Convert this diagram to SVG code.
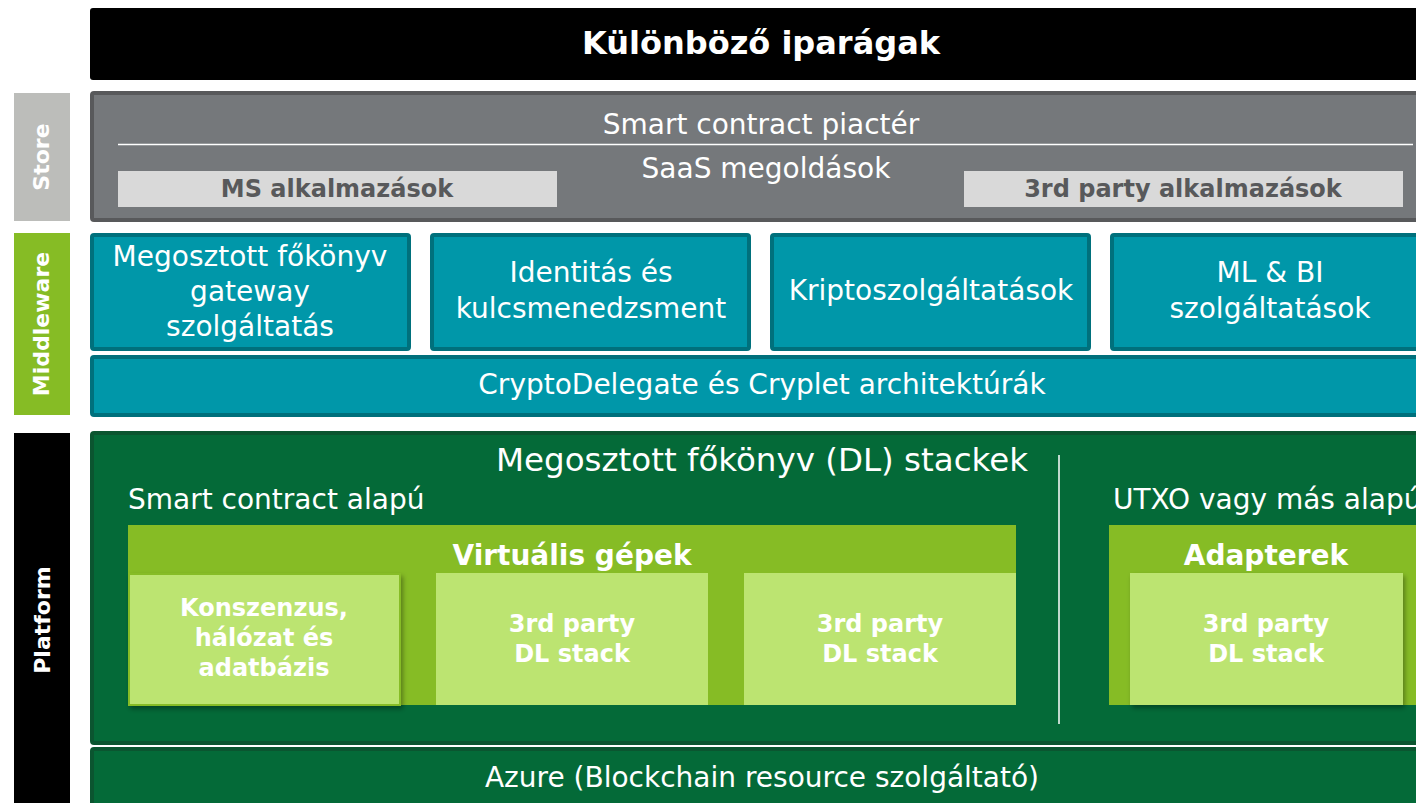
<svg xmlns="http://www.w3.org/2000/svg" width="1416" height="803" viewBox="0 0 1416 803">
  <defs>
    <filter id="shadow" x="-10%" y="-10%" width="130%" height="130%">
      <feDropShadow dx="2" dy="3" stdDeviation="2.5" flood-color="#000" flood-opacity="0.35"/>
    </filter>
  </defs>
  <style>
    text { font-family: "DejaVu Sans", Verdana, sans-serif; fill: #fff; }
    .c { text-anchor: middle; }
    .b { font-weight: bold; }
    .side { font-size: 22px; font-weight: bold; text-anchor: middle; }
    .lg { font-size: 28px; }
    .sm { font-size: 24px; font-weight: bold; }
    .mw { fill: #0097a9; stroke: #00707c; stroke-width: 4; }
    .plat { fill: #046a38; stroke: #0b5530; stroke-width: 4; }
    .vm { fill: #86bc25; }
    .leaf { fill: #bce471; }
    .app { fill: #d9d9d9; }
    .apptxt { fill: #58595b; font-size: 24px; font-weight: bold; text-anchor: middle; }
  </style>

  <!-- Side labels -->
  <g id="label-store">
    <rect x="14" y="93" width="56" height="128" fill="#bcbdba"/>
    <text class="side" transform="translate(49 157) rotate(-90)">Store</text>
  </g>
  <g id="label-middleware">
    <rect x="14" y="233" width="56" height="182" fill="#86bc25"/>
    <text class="side" transform="translate(49 324) rotate(-90)">Middleware</text>
  </g>
  <g id="label-platform">
    <rect x="14" y="433" width="56" height="372" fill="#000"/>
    <text class="side" font-size="25" transform="translate(50 620) rotate(-90)">Platform</text>
  </g>

  <!-- Industries header -->
  <g id="industries">
    <rect x="90" y="8" width="1340" height="72" rx="3" fill="#000"/>
    <text class="c b" x="761" y="54" font-size="32">Különböző iparágak</text>
  </g>

  <!-- Store layer -->
  <g id="store">
    <rect x="92" y="93" width="1340" height="127" rx="2" fill="#75787b" stroke="#58595b" stroke-width="4"/>
    <text class="c lg" x="761" y="134">Smart contract piactér</text>
    <line x1="118" y1="144.5" x2="1413" y2="144.5" stroke="#fff" stroke-width="1.5"/>
    <text class="c lg" x="766" y="178">SaaS megoldások</text>
  </g>
  <g id="ms-apps">
    <rect class="app" x="118" y="171" width="439" height="36"/>
    <text class="apptxt" x="337" y="197">MS alkalmazások</text>
  </g>
  <g id="third-party-apps">
    <rect class="app" x="964" y="171" width="439" height="36"/>
    <text class="apptxt" x="1183" y="197">3rd party alkalmazások</text>
  </g>

  <!-- Middleware layer -->
  <g id="dl-gateway">
    <rect class="mw" x="92" y="235" width="317" height="114" rx="2"/>
    <text class="c lg" x="250" y="266">Megosztott főkönyv</text>
    <text class="c lg" x="250" y="301">gateway</text>
    <text class="c lg" x="250" y="336">szolgáltatás</text>
  </g>
  <g id="identity">
    <rect class="mw" x="432" y="235" width="317" height="114" rx="2"/>
    <text class="c lg" x="591" y="282">Identitás és</text>
    <text class="c lg" x="591" y="318">kulcsmenedzsment</text>
  </g>
  <g id="crypto">
    <rect class="mw" x="772" y="235" width="317" height="114" rx="2"/>
    <text class="c lg" x="931" y="300">Kriptoszolgáltatások</text>
  </g>
  <g id="ml-bi">
    <rect class="mw" x="1112" y="235" width="320" height="114" rx="2"/>
    <text class="c lg" x="1270" y="282">ML &amp; BI</text>
    <text class="c lg" x="1270" y="318">szolgáltatások</text>
  </g>
  <g id="cryptodelegate">
    <rect class="mw" x="92" y="357" width="1340" height="58" rx="2"/>
    <text class="c lg" x="762" y="394">CryptoDelegate és Cryplet architektúrák</text>
  </g>

  <!-- Platform layer -->
  <g id="dl-stacks">
    <rect class="plat" x="92" y="433" width="1340" height="310" rx="2"/>
    <text class="c" x="762" y="471" font-size="32.5">Megosztott főkönyv (DL) stackek</text>
    <text class="lg" x="128" y="509">Smart contract alapú</text>
    <text class="lg" x="1113" y="509">UTXO vagy más alapú</text>
  </g>
  <g id="virtual-machines">
    <rect class="vm" x="128" y="525" width="888" height="180"/>
    <text class="c b" x="572" y="565" font-size="28">Virtuális gépek</text>
  </g>
  <g id="consensus">
    <rect class="leaf" x="129" y="574" width="271" height="131" stroke="#86bc25" stroke-width="2" filter="url(#shadow)"/>
    <text class="c sm" x="264" y="616">Konszenzus,</text>
    <text class="c sm" x="264" y="646">hálózat és</text>
    <text class="c sm" x="264" y="676">adatbázis</text>
  </g>
  <g id="vm-stack-1">
    <rect class="leaf" x="436" y="573" width="272" height="132"/>
    <text class="c sm" x="572" y="632">3rd party</text>
    <text class="c sm" x="572" y="662">DL stack</text>
  </g>
  <g id="vm-stack-2">
    <rect class="leaf" x="744" y="573" width="272" height="132"/>
    <text class="c sm" x="880" y="632">3rd party</text>
    <text class="c sm" x="880" y="662">DL stack</text>
  </g>
  <g id="adapters">
    <rect class="vm" x="1109" y="525" width="320" height="180"/>
    <text class="c b" x="1266" y="565" font-size="28">Adapterek</text>
  </g>
  <g id="adapter-stack">
    <rect class="leaf" x="1130" y="573" width="273" height="132" filter="url(#shadow)"/>
    <text class="c sm" x="1266" y="632">3rd party</text>
    <text class="c sm" x="1266" y="662">DL stack</text>
  </g>
  <g id="azure">
    <rect class="plat" x="92" y="749" width="1340" height="70" rx="2"/>
    <text class="c lg" x="762" y="787">Azure (Blockchain resource szolgáltató)</text>
  </g>

  <!-- Separator between stack families -->
  <g id="connectors">
    <line x1="1059" y1="455" x2="1059" y2="724" stroke="#fff" stroke-width="1.5"/>
  </g>
</svg>
